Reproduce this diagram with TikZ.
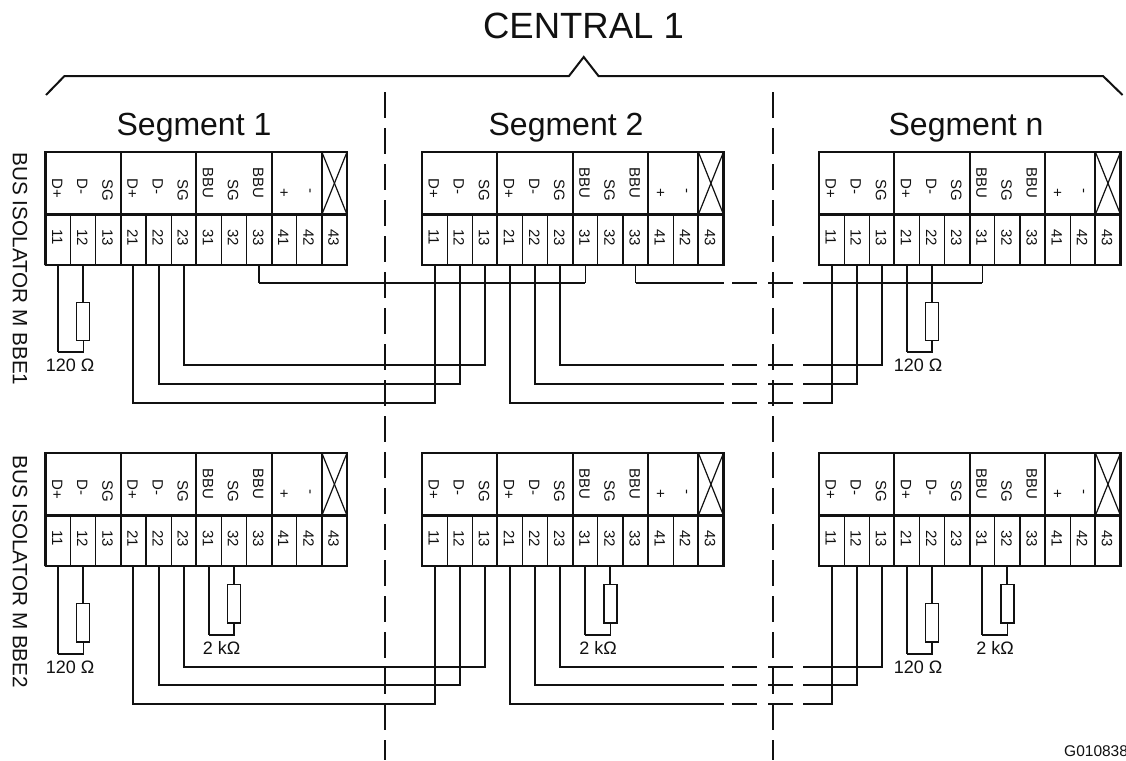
\documentclass[tikz,border=0pt]{standalone}
\usepackage{fontspec}
\setmainfont{Liberation Sans}
\definecolor{ink}{HTML}{111111}
\tikzset{
  thickline/.style={line width=2.2pt,draw=ink},
  wireline/.style={line width=2pt,draw=ink},
  thinline/.style={line width=1.2pt,draw=ink},
  sepline/.style={line width=2pt,draw=ink,dash pattern=on 25.7pt off 10.3pt},
  cellbox/.style={thinline,rectangle,inner sep=0pt,outer sep=0pt,minimum width=25.125pt,minimum height=50.5pt},
  groupbox/.style={thickline,rectangle,inner sep=0pt,outer sep=0pt,minimum height=62.5pt},
  resbox/.style={thinline,rectangle,fill=white,inner sep=0pt,outer sep=0pt,minimum width=13pt,minimum height=38.3pt},
  lab/.style={inner sep=0pt,text=ink,font=\fontsize{15}{15}\selectfont,rotate=-90},
  val/.style={inner sep=0pt,text=ink,font=\fontsize{18}{18}\selectfont},
  segtitle/.style={inner sep=0pt,anchor=base,text=ink,font=\fontsize{32}{32}\selectfont},
  bustitle/.style={inner sep=0pt,text=ink,font=\fontsize{20.7}{20.7}\selectfont,rotate=-90},
}
\newcommand{\blk}[3]{%
  \foreach \grp/\gs/\gw in {g0/0/3,g1/3/3,g2/6/3,g3/9/2,gx/11/1}{%
    \pgfmathsetmacro\cx{#2+25.125*(\gs+\gw/2)}%
    \pgfmathsetmacro\gwid{25.125*\gw}%
    \node[groupbox,minimum width=\gwid pt] (#1\grp) at (\cx,#3+31.25) {};
  }
  \foreach \idx/\num in {0/11,1/12,2/13,3/21,4/22,5/23,6/31,7/32,8/33,9/41,10/42,11/43}{%
    \pgfmathsetmacro\cx{#2+25.125*(\idx+.5)}%
    \pgfmathsetmacro\tx{\cx-0.8}%
    \node[cellbox] (#1\num) at (\cx,#3+87.75) {};
    \node[lab] (#1n\num) at (\tx,#3+85.5) {\num};
  }
  \foreach \idx/\tlab/\tof in {0/D+/36,1/D-/34.5,2/SG/38.7,3/D+/36,4/D-/34.5,5/SG/38.7,6/BBU/30.5,7/SG/38.7,8/BBU/30.5,9/+/41,10/-/38.7}{%
    \pgfmathsetmacro\tx{#2+25.125*(\idx+.5)-0.8}%
    \node[lab] (#1t\idx) at (\tx,#3+\tof) {\tlab};
  }
  \draw[thickline] (#1g0.south west) rectangle (#111.south west);
  \draw[thickline] (#111.south west) -- (#143.south east) -- (#1gx.south east);
  \foreach \cc in {21,31,41,43}{\draw[thickline] (#1\cc.north west) -- (#1\cc.south west);}
  \draw[thinline] (#1gx.north west) -- (#1gx.south east);
  \draw[thinline] (#1gx.north east) -- (#1gx.south west);
}
% from, to, y : solid wire between two terminals
\newcommand{\wire}[3]{\draw[wireline] (#1.south) -- (#1.south |- 0,#3) -| (#2.south);}
% same, broken by the two gaps around the separator
\newcommand{\gapwire}[3]{%
  \draw[wireline] (#1.south) -- (#1.south |- 0,#3) -- (ga |- 0,#3);
  \draw[wireline] (gb |- 0,#3) -- (gc |- 0,#3);
  \draw[wireline] (gd |- 0,#3) -- (ge |- 0,#3);
  \draw[wireline] (gf |- 0,#3) -| (#2.south);
}
% name, terminal with resistor, return terminal, resistor centre y, bottom y
\newcommand{\resis}[5]{%
  \node[resbox] (#1) at (#2.south |- 0,#4) {};
  \draw[wireline] (#2.south) -- (#1.north);
  \draw[thinline] (#1.south) -- (#1.south |- 0,#5) -- (#3.south |- 0,#5);
  \draw[wireline] (#3.south) -- (#3.south |- 0,#5);
}
\begin{document}
\begin{tikzpicture}[x=1pt,y=-1pt]
\useasboundingbox (0,0) rectangle (1126,760);
\fill[white] (0,0) rectangle (1126,760);
\coordinate (ga) at (724,0); \coordinate (gb) at (732,0); \coordinate (gc) at (757.3,0);
\coordinate (gd) at (768.3,0); \coordinate (ge) at (793.3,0); \coordinate (gf) at (803.3,0);

% title and brace
\node[inner sep=0pt,anchor=base,text=ink,font=\fontsize{36.5}{36.5}\selectfont] (central) at (583.5,38.5) {CENTRAL 1};
\draw[wireline,line join=miter] (46,95) -- (64.5,76) -- (569,76) -- (583.7,57) -- (598.5,76) -- (1103,76) -- (1122.5,95);
\node[segtitle] (seg1) at (194,135) {Segment 1};
\node[segtitle] (seg2) at (566,135) {Segment 2};
\node[segtitle] (segn) at (966,135) {Segment n};
\node[bustitle] (bus1) at (20,269) {BUS ISOLATOR M BBE1};
\node[bustitle] (bus2) at (20,571.7) {BUS ISOLATOR M BBE2};
\node[inner sep=0pt,anchor=base west,text=ink,font=\fontsize{15.5}{15.5}\selectfont] (code) at (1064,756) {G010838};

% blocks
\blk{a}{45.5}{152}
\blk{b}{422}{152}
\blk{c}{819}{152}
\blk{d}{45.5}{453}
\blk{e}{422}{453}
\blk{f}{819}{453}

% separators
\coordinate (s1t) at (385,92); \coordinate (s1b) at (385,760);
\coordinate (s2t) at (773,92); \coordinate (s2b) at (773,760);
\draw[sepline] (s1t) -- (s1b);
\draw[sepline] (s2t) -- (s2b);

% upper row wiring
\wire{a21}{b11}{403}
\wire{a22}{b12}{384}
\wire{a23}{b13}{365}
\draw[thinline] (a33.south) -- (a33.south |- 0,283.3);
\draw[thinline] (b31.south) -- (b31.south |- 0,283.3);
\draw[wireline] (a33.south |- 0,283.3) -- (b31.south |- 0,283.3);
\gapwire{b21}{c11}{403}
\gapwire{b22}{c12}{384}
\gapwire{b23}{c13}{365}
\draw[thinline] (b33.south) -- (b33.south |- 0,283.3);
\draw[thinline] (c31.south) -- (c31.south |- 0,283.3);
\draw[wireline] (b33.south |- 0,283.3) -- (ga |- 0,283.3);
\draw[wireline] (gb |- 0,283.3) -- (gc |- 0,283.3);
\draw[wireline] (gd |- 0,283.3) -- (ge |- 0,283.3);
\draw[wireline] (gf |- 0,283.3) -- (c31.south |- 0,283.3);

% lower row wiring
\wire{d21}{e11}{704.3}
\wire{d22}{e12}{685.3}
\wire{d23}{e13}{666.7}
\gapwire{e21}{f11}{704.3}
\gapwire{e22}{f12}{685.3}
\gapwire{e23}{f13}{666.7}

% resistors
\resis{r1}{a12}{a11}{321.5}{352}
\resis{r2}{c22}{c21}{321.5}{352}
\resis{r3}{d12}{d11}{622.8}{654}
\resis{r4}{f22}{f21}{622.8}{654}
\resis{r5}{d32}{d31}{603.8}{635}
\resis{r6}{e32}{e31}{603.8}{635}
\resis{r7}{f32}{f31}{603.8}{635}

\node[val] (v1) at (70,365.7) {120 Ω};
\node[val] (v2) at (918,365.7) {120 Ω};
\node[val] (v3) at (70,667) {120 Ω};
\node[val] (v4) at (918,667) {120 Ω};
\node[val] (v5) at (221.5,648) {2 kΩ};
\node[val] (v6) at (598,648) {2 kΩ};
\node[val] (v7) at (995,648) {2 kΩ};
\end{tikzpicture}
\end{document}
